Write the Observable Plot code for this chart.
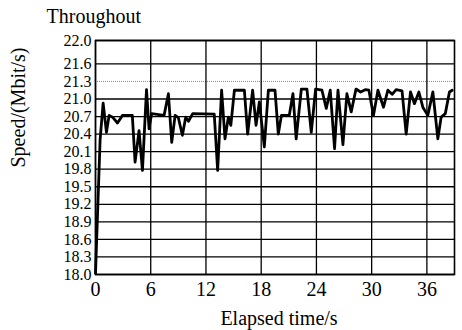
<!DOCTYPE html>
<html>
<head>
<meta charset="utf-8">
<script src="https://cdn.jsdelivr.net/npm/d3@7"></script>
<script src="https://cdn.jsdelivr.net/npm/@observablehq/plot@0.6"></script>
<style>
  html, body { margin: 0; padding: 0; background: #fff; }
</style>
</head>
<body>
<div id="chart"></div>
<script>
// Elapsed time (s)
const time = [0, 0.5, 0.83, 1.19, 1.48, 1.85, 2.39, 2.93, 4.0, 4.3, 4.73, 5.1, 5.54, 5.82, 6.1, 7.45, 7.92, 8.28, 8.65, 9.0, 9.44, 9.8, 10.1, 10.56, 12.9, 13.27, 13.7, 14.07, 14.43, 14.7, 15.09, 16.17, 16.53, 17.07, 17.44, 17.8, 18.34, 18.78, 19.5, 19.86, 20.2, 21.05, 21.45, 21.8, 22.36, 22.97, 23.44, 23.91, 24.6, 25.07, 25.5, 25.97, 26.34, 26.88, 27.31, 27.78, 28.3, 28.8, 29.3, 29.7, 30.2, 30.68, 31.29, 31.76, 32.23, 32.66, 33.3, 33.75, 34.22, 34.65, 35.13, 35.56, 36.1, 36.65, 37.19, 37.55, 38.0, 38.45, 38.75];
// Speed (Mbit/s)
const speed = [18.02, 20.3, 20.93, 20.43, 20.72, 20.69, 20.59, 20.72, 20.72, 19.92, 20.46, 19.78, 21.16, 20.49, 20.75, 20.72, 21.09, 20.26, 20.72, 20.68, 20.38, 20.69, 20.62, 20.75, 20.74, 19.78, 21.15, 20.32, 20.69, 20.55, 21.15, 21.15, 20.40, 21.15, 20.55, 20.95, 20.18, 21.15, 21.15, 20.40, 20.72, 20.72, 21.09, 20.32, 21.17, 21.17, 20.43, 21.17, 21.15, 20.84, 21.15, 20.15, 21.15, 20.22, 21.09, 20.78, 21.17, 21.12, 21.16, 21.15, 20.72, 21.15, 20.86, 21.15, 21.08, 21.16, 21.14, 20.40, 21.12, 20.92, 21.12, 20.86, 20.72, 21.12, 20.32, 20.69, 20.75, 21.12, 21.15];

const xTicks = [0, 6, 12, 18, 24, 30, 36];
const yTicks = [18.0, 18.3, 18.6, 18.9, 19.2, 19.5, 19.8, 20.1, 20.4, 20.7, 21.0, 21.3, 21.6, 22.0];
const yTickLabels = ["18.0", "18.3", "18.6", "18.9", "19.2", "19.5", "19.8", "20.1", "20.4", "20.7", "21.0", "21.3", "21.6", "22.0"];
const dottedTicks = [21.3];

const title = "Throughout";
const xLabel = "Elapsed time/s";
const yLabel = "Speed/(Mbit/s)";

const data = time.map((t, i) => ({t, v: speed[i]}));

const chart = Plot.plot({
  width: 462,
  height: 330,
  marginLeft: 95,
  marginRight: 8,
  marginTop: 40,
  marginBottom: 56,
  style: {fontFamily: "'Liberation Serif', 'Times New Roman', serif", fontSize: "20px", color: "black", background: "white"},
  x: {domain: [0, 39]},
  y: {domain: [18, 22]},
  marks: [
    Plot.ruleY(yTicks.filter(d => !dottedTicks.includes(d)), {stroke: "black", strokeWidth: 1.3}),
    Plot.ruleY(dottedTicks, {stroke: "#888", strokeWidth: 1, strokeDasharray: "1,1"}),
    Plot.ruleX(xTicks, {stroke: "black", strokeWidth: 1.3}),
    Plot.line(data, {x: "t", y: "v", stroke: "black", strokeWidth: 2.8, strokeLinejoin: "round"}),
    Plot.frame({stroke: "black", strokeWidth: 1.6}),
    Plot.axisX({ticks: xTicks, tickSize: 0, tickPadding: 7, label: null, fontSize: 20}),
    Plot.axisY({ticks: yTicks, tickFormat: d => yTickLabels[yTicks.indexOf(d)], tickSize: 0, tickPadding: 4, label: null, fontSize: 16}),
    Plot.text([title], {frameAnchor: "top-left", textAnchor: "start", lineAnchor: "middle", dx: -49, dy: -24, fontSize: 20}),
    Plot.text([xLabel], {frameAnchor: "bottom", lineAnchor: "middle", dx: 4, dy: 44, fontSize: 20}),
    Plot.text([yLabel], {frameAnchor: "left", rotate: -90, lineAnchor: "middle", dx: -77, dy: 10, fontSize: 20})
  ]
});
document.getElementById("chart").appendChild(chart);
</script>
</body>
</html>
